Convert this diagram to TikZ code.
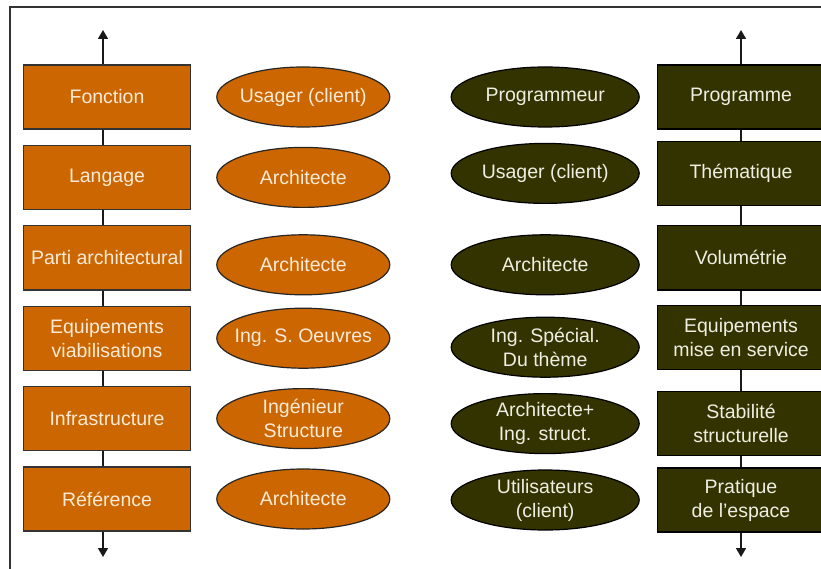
\documentclass[tikz,border=0pt]{standalone}
\usepackage{fontspec}
\setmainfont{Liberation Sans}
\usetikzlibrary{arrows.meta,positioning,shapes.geometric}
\definecolor{brique}{HTML}{CC6600}
\definecolor{kaki}{HTML}{333300}
\definecolor{creme}{HTML}{FBEBD8}
\definecolor{pale}{HTML}{EEEEE2}

\begin{document}
\begin{tikzpicture}[x=1pt,y=-1pt,node distance=15pt,>={Triangle[length=9pt,width=10pt]},
  every node/.style={font=\fontsize{19.5}{24}\selectfont,align=center,inner sep=0pt},
  etape/.style={draw=black!80,line width=1.4pt,fill=brique,text=creme,minimum width=167pt,minimum height=64pt},
  acteur/.style={ellipse,draw=black!85,line width=1.2pt,fill=brique,text=creme,minimum width=173pt,minimum height=60pt,inner xsep=-22pt,inner ysep=-9pt},
  etapeb/.style={etape,fill=kaki,text=pale,draw=black},
  acteurb/.style={acteur,fill=kaki,text=pale,draw=black,minimum width=188pt},
  fil/.style={line width=1.6pt,black!90}]
\useasboundingbox (0,0) rectangle (821,569);
\clip (0,0) rectangle (821,569);
\fill[white] (0,0) rectangle (821,569);
\draw[line width=2pt,black!80] (10,569) -- (10,7) -- (821,7);

% colonne de gauche
\node[etape] (fonc) at (107,97) {Fonction};
\node[etape,below=of fonc] (lang) {Langage};
\node[etape,below=of lang] (parti) {Parti architectural};
\node[etape,below=of parti] (equi) {Equipements\\viabilisations};
\node[etape,below=of equi] (infra) {Infrastructure};
\node[etape,below=of infra] (refe) {Référence};

\node[acteur,right=25pt of fonc] (usag) {Usager (client)};
\node[acteur,right=25pt of lang] (arch) {Architecte};
\node[acteur,right=25pt of parti,yshift=-7pt] (arch2) {Architecte};
\node[acteur,right=25pt of equi] (ingso) {Ing. S. Oeuvres};
\node[acteur,right=25pt of infra] (ingst) {Ingénieur\\Structure};
\node[acteur,right=25pt of refe] (arch3) {Architecte};

% colonne de droite
\node[etapeb] (prog) at (741,97) {Programme};
\node[etapeb,below=11pt of prog] (them) {Thématique};
\node[etapeb,below=19pt of them] (volu) {Volumétrie};
\node[etapeb,below=14pt of volu] (serv) {Equipements\\mise en service};
\node[etapeb,below=21pt of serv] (stab) {Stabilité\\structurelle};
\node[etapeb,below=11pt of stab] (prat) {Pratique\\de l'espace};

\node[acteurb,left=17pt of prog] (progr) {Programmeur};
\node[acteurb,left=17pt of them] (usag2) {Usager (client)};
\node[acteurb,left=17pt of volu,yshift=-7pt] (arch4) {Architecte};
\node[acteurb,left=17pt of serv,yshift=-10pt] (ingsp) {Ing. Spécial.\\Du thème};
\node[acteurb,left=17pt of stab] (archi) {Architecte+\\Ing. struct.};
\node[acteurb,left=17pt of prat] (util) {Utilisateurs\\(client)};

\coordinate (ghaut) at (103,30);
\coordinate (gbas) at (103,557);
\coordinate (dhaut) at (741,30);
\coordinate (dbas) at (741,557);

\draw[fil,->] (fonc.north -| ghaut) -- (ghaut);
\draw[fil] (fonc.south -| ghaut) -- (lang.north -| ghaut);
\draw[fil] (lang.south -| ghaut) -- (parti.north -| ghaut);
\draw[fil] (parti.south -| ghaut) -- (equi.north -| ghaut);
\draw[fil] (equi.south -| ghaut) -- (infra.north -| ghaut);
\draw[fil] (infra.south -| ghaut) -- (refe.north -| ghaut);
\draw[fil,->] (refe.south -| gbas) -- (gbas);

\draw[fil,->] (prog) -- (dhaut);
\draw[fil] (prog) -- (them);
\draw[fil] (them) -- (volu);
\draw[fil] (volu) -- (serv);
\draw[fil] (serv) -- (stab);
\draw[fil] (stab) -- (prat);
\draw[fil,->] (prat) -- (dbas);
\end{tikzpicture}
\end{document}
